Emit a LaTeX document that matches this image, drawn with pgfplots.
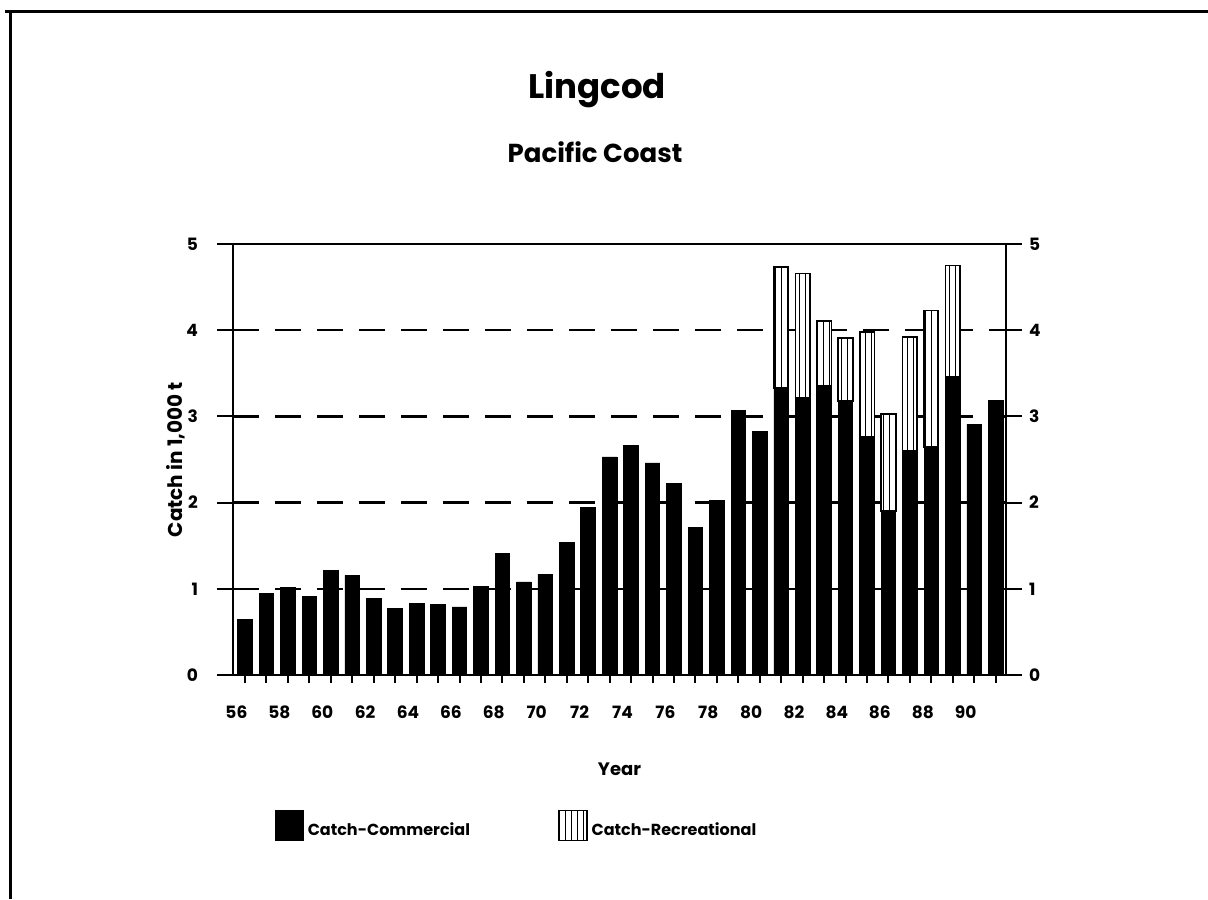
\documentclass[border=0pt]{standalone}
\usepackage{pgfplots}
\pgfplotsset{compat=1.18}
\usepackage{pgfplotstable}
\usetikzlibrary{patterns}
\usepackage{fontspec}
\setmainfont{Poppins}

% catch in 1,000 t: commercial and recreational
\pgfplotstableread{
year com rec
56 0.645 0
57 0.946 0
58 1.015 0
59 0.915 0
60 1.21 0
61 1.16 0
62 0.884 0
63 0.776 0
64 0.83 0
65 0.815 0
66 0.79 0
67 1.03 0
68 1.41 0
69 1.08 0
70 1.17 0
71 1.54 0
72 1.94 0
73 2.53 0
74 2.66 0
75 2.46 0
76 2.22 0
77 1.71 0
78 2.02 0
79 3.07 0
80 2.83 0
81 3.33 1.40
82 3.22 1.44
83 3.36 0.75
84 3.18 0.73
85 2.76 1.22
86 1.90 1.13
87 2.60 1.32
88 2.645 1.585
89 3.455 1.295
90 2.91 0
91 3.18 0
}\catch

\pgfplotsset{
  base/.style={
    at={(116.5pt,-337.5pt)}, anchor=south west,
    scale only axis, width=386.5pt, height=215.5pt,
    xmin=55.44, xmax=91.48, ymin=0, ymax=5,
    axis line style={line width=1pt},
    tick style={line width=1pt, black},
    tick align=outside,
    /pgf/number format/assume math mode=true,
    ticklabel style={font=\bfseries\fontsize{8.5}{10}\selectfont},
  }
}

\begin{document}
\begin{tikzpicture}
\path[use as bounding box] (0,0) rectangle (604pt,-449.5pt);
\draw[line width=1.5pt] (2.5pt,-6pt) -- (604pt,-6pt);
\draw[line width=1.5pt] (5pt,-6pt) -- (5pt,-449.5pt);

\node[font=\bfseries\fontsize{17}{20}\selectfont] at (298.5pt,-45pt) {Lingcod};
\node[font=\bfseries\fontsize{13}{15}\selectfont] at (297.5pt,-76pt) {Pacific Coast};

% bars, grid, x ticks, legend
\begin{axis}[base,
  ybar stacked, bar width=7.3pt,
  xtick={56,...,91}, xticklabels=\empty, xtick pos=left,
  major tick length=4pt,
  ytick={1,2,3,4}, yticklabels=\empty, ytick style={draw=none},
  ymajorgrids,
  y grid style={line width=1.2pt, black, dash pattern=on 13pt off 8pt},
  legend columns=2,
  legend style={draw=none, fill=none, at={(0.046,-0.35)}, anchor=west,
    font=\bfseries\fontsize{8}{9.6}\selectfont,
    /tikz/every even column/.append style={column sep=42pt}},
  legend image code/.code={\draw[#1] (0pt,-5pt) rectangle (14pt,10pt);},
]
\addplot[fill=black, draw=black] table[x=year, y=com] {\catch};
\addlegendentry{Catch-Commercial}
\addplot[fill=white, draw=black, line width=0.8pt, postaction={pattern=vertical lines}] table[x=year, y=rec] {\catch};
\addlegendentry{Catch-Recreational}
\end{axis}

% y ticks on both sides, left labels, x labels
\begin{axis}[base,
  axis line style={draw=none},
  ytick={0,...,5}, ytick pos=both, yticklabel pos=left,
  major tick length=8pt,
  yticklabel style={xshift=-6pt},
  xtick={56,58,...,90}, xtick style={draw=none},
  xticklabel style={xshift=-4.3pt, yshift=-4pt},
  xlabel={Year},
  xlabel style={at={(0.5,-0.218)}, anchor=center, font=\bfseries\fontsize{9}{11}\selectfont},
  ylabel={Catch in 1,000 t},
  ylabel style={at={(-0.074,0.5)}, anchor=center, font=\bfseries\fontsize{10}{12}\selectfont},
]
\end{axis}

% right labels
\begin{axis}[base,
  axis line style={draw=none},
  ytick={0,...,5}, yticklabel pos=right, ytick style={draw=none},
  major tick length=8pt,
  xtick=\empty,
]
\end{axis}
\end{tikzpicture}
\end{document}
